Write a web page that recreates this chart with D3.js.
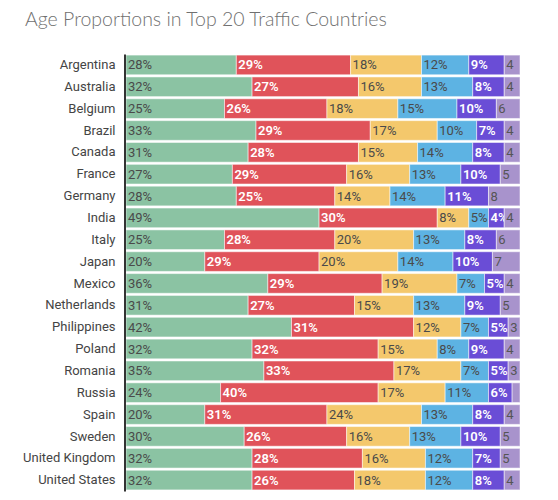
<!DOCTYPE html>
<html><head><meta charset="utf-8">
<script src="https://cdn.jsdelivr.net/npm/d3@7"></script>
<style>body{margin:0;background:#fff;}svg{display:block;}</style>
</head><body>
<script>
const countries = ["Argentina","Australia","Belgium","Brazil","Canada","France","Germany","India","Italy","Japan","Mexico","Netherlands","Philippines","Poland","Romania","Russia","Spain","Sweden","United Kingdom","United States"];
const age18_24 = [28,32,25,33,31,27,28,49,25,20,36,31,42,32,35,24,20,30,32,32];
const age25_34 = [29,27,26,29,28,29,25,30,28,29,29,27,31,32,33,40,31,26,28,26];
const age35_44 = [18,16,18,17,15,16,14,8,20,20,19,15,12,15,17,17,24,16,16,18];
const age45_54 = [12,13,15,10,14,13,14,5,13,14,7,13,7,8,7,11,13,13,12,12];
const age55_64 = [9,8,10,7,8,10,11,4,8,10,5,9,5,9,5,6,8,10,7,8];
const age65plus = [4,4,6,4,4,5,8,4,6,7,4,5,3,4,3,2,4,5,5,4];
const seriesKeys = ["a","b","c","d","e","f"];
const seriesData = [age18_24,age25_34,age35_44,age45_54,age55_64,age65plus];
const colors = ["#8bc3a3","#e0535a","#f4c86c","#5db3e3","#6a4dd6","#a893cc"];
const textColors = ["#4a4a4a","#ffffff","#4a4a4a","#4a4a4a","#ffffff","#555555"];
const boldText = [false,true,false,false,true,false];

const W=558,H=500;
const svg=d3.select("body").append("svg").attr("width",W).attr("height",H);
svg.append("text").attr("x",25).attr("y",26).text("Age Proportions in Top 20 Traffic Countries")
  .attr("font-family","Lato, 'Open Sans', sans-serif").attr("font-size",19.5).attr("font-weight",300).attr("fill","#707070");

const rows = countries.map((c,i)=>{const r={country:c}; seriesKeys.forEach((k,j)=>r[k]=seriesData[j][i]); return r;});
const stack = d3.stack().keys(seriesKeys)(rows);
const x = d3.scaleLinear().domain([0,100]).range([126,520]);
const y = d3.scaleBand().domain(countries).range([54,491]).paddingInner(0.1).paddingOuter(0.05);

stack.forEach((layer,j)=>{
  const g = svg.append("g");
  g.selectAll("rect").data(layer).join("rect")
    .attr("x",d=>x(d[0])).attr("y",d=>y(d.data.country))
    .attr("width",d=>x(d[1])-x(d[0])).attr("height",y.bandwidth())
    .attr("fill",colors[j]).attr("stroke","#ffffff").attr("stroke-opacity",0.5).attr("stroke-width",1);
  g.selectAll("text").data(layer).join("text")
    .attr("x",d=>x(d[0])+2).attr("y",d=>y(d.data.country)+y.bandwidth()/2)
    .attr("dy","0.35em")
    .text(d=>j===5?(d[1]-d[0]<=2?"":String(d[1]-d[0])):(d[1]-d[0])+"%")
    .attr("font-family","Roboto, sans-serif").attr("font-size",13)
    .attr("font-weight",boldText[j]?600:"normal")
    .attr("fill",textColors[j]);
});

const yAxis = svg.append("g").attr("transform","translate(124.5,0)").call(d3.axisLeft(y).tickSize(0).tickPadding(9));
yAxis.select(".domain").attr("stroke","#333").attr("stroke-width",2);
yAxis.selectAll("text").attr("font-family","Roboto, sans-serif").attr("font-size",13).attr("fill","#444");
</script>
</body></html>
